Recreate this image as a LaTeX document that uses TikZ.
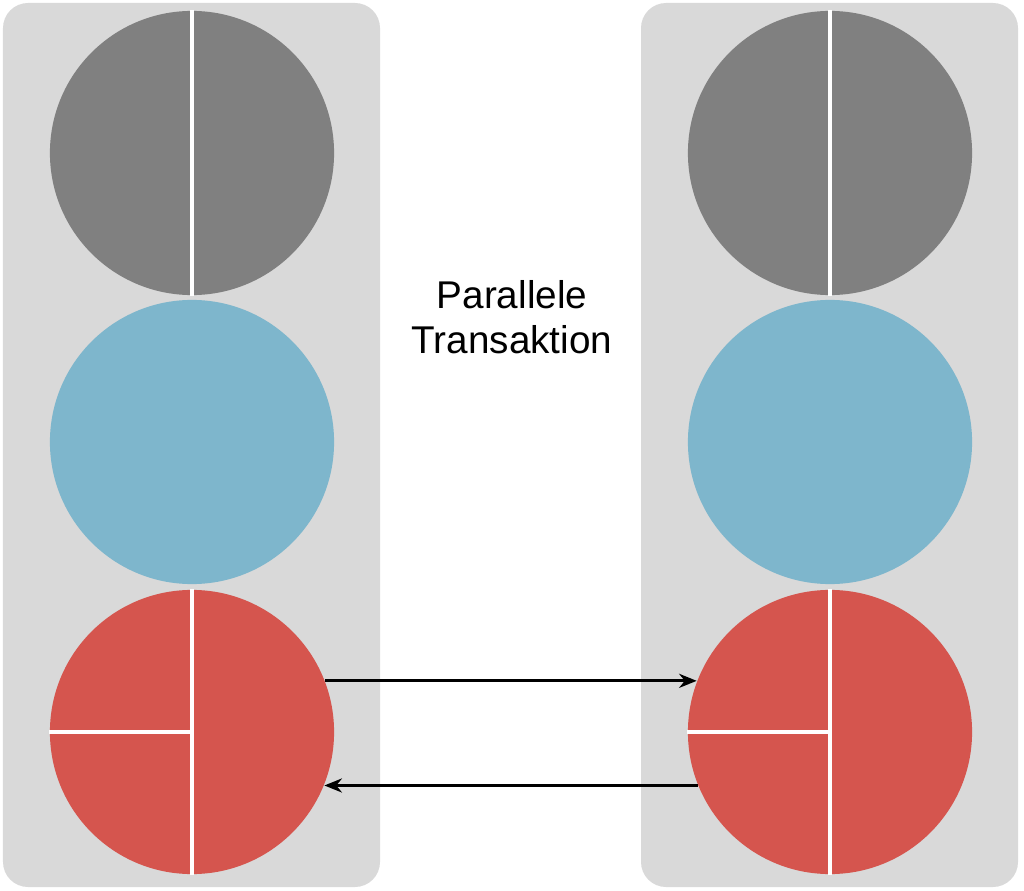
\documentclass[tikz,border=0pt]{standalone}
\usepackage{fontspec}
\setmainfont{Liberation Sans}
\usetikzlibrary{arrows.meta}
\definecolor{panelgray}{HTML}{D9D9D9}
\definecolor{diskgray}{HTML}{808080}
\definecolor{diskblue}{HTML}{7EB6CC}
\definecolor{diskred}{HTML}{D5554E}
\begin{document}
\begin{tikzpicture}[x=0.01cm,y=-0.01cm]
    \tikzstyle{disk}=[circle,minimum size=2.84cm,inner sep=0pt]
    \tikzstyle{cut}=[white,line width=0.9pt]
    \tikzstyle{msg}=[-{Stealth[length=5pt,width=4pt]},line width=0.8pt]
    \useasboundingbox (0,0) rectangle (1024,891);
    \foreach \p / \x in {l/3, r/641} {
        \fill[panelgray,rounded corners=0.25cm] (\x,3) rectangle ++(377,884);
    }
    \foreach \p / \cx in {l/192, r/830} {
        \node[disk,fill=diskgray] (\p g) at (\cx,153) {};
        \node[disk,fill=diskblue] (\p b) at (\cx,442) {};
        \node[disk,fill=diskred] (\p r) at (\cx,732) {};
        \draw[cut] (\p g.north) -- (\p g.south);
        \draw[cut] (\p r.north) -- (\p r.south);
        \draw[cut] (\p r.west) -- (\p r.center);
    }
    \node[align=center,font=\fontsize{11}{12.8}\selectfont] (title) at (512,317) {Parallele\\Transaktion};
    \draw[msg] (lr.21) -- (rr.159);
    \draw[msg] (rr.202) -- (lr.338);
\end{tikzpicture}
\end{document}
